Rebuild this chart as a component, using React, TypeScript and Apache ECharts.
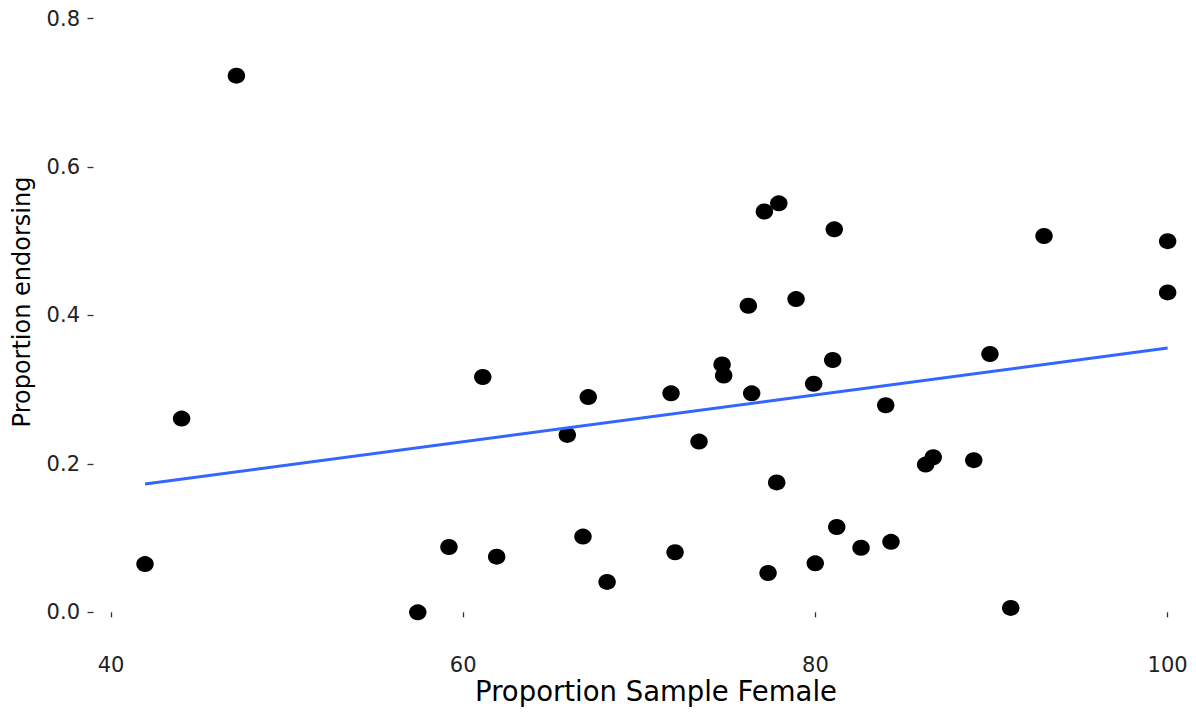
import React, { useEffect, useRef } from "react";
import * as echarts from "echarts";

const femalePct = [41.93, 44.01, 47.12, 57.42, 59.19, 61.11, 61.9, 65.91, 66.8, 67.1, 68.17, 71.8, 72.03, 73.39, 74.7, 74.79, 76.19, 76.38, 77.1, 77.92, 77.31, 77.8, 78.9, 79.9, 79.99, 81.07, 80.98, 81.21, 82.59, 83.99, 84.29, 86.26, 86.69, 88.99, 89.91, 91.09, 92.98, 100, 100, 86.5];
const endorsing = [0.065, 0.261, 0.723, 0.0, 0.088, 0.317, 0.075, 0.239, 0.102, 0.29, 0.041, 0.295, 0.081, 0.23, 0.334, 0.319, 0.413, 0.295, 0.54, 0.551, 0.053, 0.175, 0.422, 0.308, 0.066, 0.516, 0.34, 0.115, 0.087, 0.279, 0.095, 0.199, 0.209, 0.205, 0.348, 0.006, 0.507, 0.5, 0.431, 0.838];
const fitX = [41.93, 100];
const fitY = [0.173, 0.356];
const xTicks = [40, 60, 80, 100];
const yTicks = [0, 0.2, 0.4, 0.6, 0.8];

export default function App() {
  const ref = useRef<HTMLDivElement>(null);
  useEffect(() => {
    if (!ref.current) return;
    const chart = echarts.init(ref.current, null, { renderer: "svg" });
    const font = "DejaVu Sans";
    chart.setOption({
      animation: false,
      backgroundColor: "#ffffff",
      grid: { left: 93.5, right: 0, top: 18.5, bottom: 70, containLabel: false },
      xAxis: {
        type: "value",
        min: 39.006,
        max: 101.61,
        axisLine: { show: false },
        splitLine: { show: false },
        axisTick: { show: true, customValues: xTicks, length: 5, lineStyle: { color: "#333", width: 1.3 } },
        axisLabel: { customValues: xTicks, margin: 9, fontFamily: font, fontSize: 21, color: "#222" },
      },
      yAxis: {
        type: "value",
        min: -0.044,
        max: 0.8,
        axisLine: { show: false },
        splitLine: { show: false },
        axisTick: { show: true, customValues: yTicks, length: 6, lineStyle: { color: "#333", width: 1.3 } },
        axisLabel: {
          customValues: yTicks,
          margin: 13.5,
          fontFamily: font,
          fontSize: 21,
          color: "#222",
          formatter: (v: number) => v.toFixed(1),
        },
      },
      graphic: [
        {
          type: "text",
          x: 656,
          y: 691,
          style: {
            text: "Proportion Sample Female",
            fontFamily: font,
            fontSize: 27.5,
            fill: "#000",
            align: "center",
            verticalAlign: "middle",
          },
        },
        {
          type: "text",
          x: 22,
          y: 302,
          rotation: Math.PI / 2,
          style: {
            text: "Proportion endorsing",
            fontFamily: font,
            fontSize: 24,
            fill: "#000",
            align: "center",
            verticalAlign: "middle",
          },
        },
      ],
      series: [
        {
          type: "scatter",
          clip: false,
          symbol: "circle",
          symbolSize: [17.5, 16],
          itemStyle: { color: "#000000", opacity: 1 },
          data: femalePct.map((x, i) => [x, endorsing[i]]),
          z: 2,
        },
        {
          type: "line",
          data: fitX.map((x, i) => [x, fitY[i]]),
          showSymbol: false,
          symbol: "none",
          lineStyle: { color: "#3366FF", width: 3, opacity: 1 },
          z: 3,
        },
      ],
    });
    return () => chart.dispose();
  }, []);
  return <div ref={ref} style={{ position: "fixed", left: 0, top: 0, width: 1196, height: 715 }} />;
}
